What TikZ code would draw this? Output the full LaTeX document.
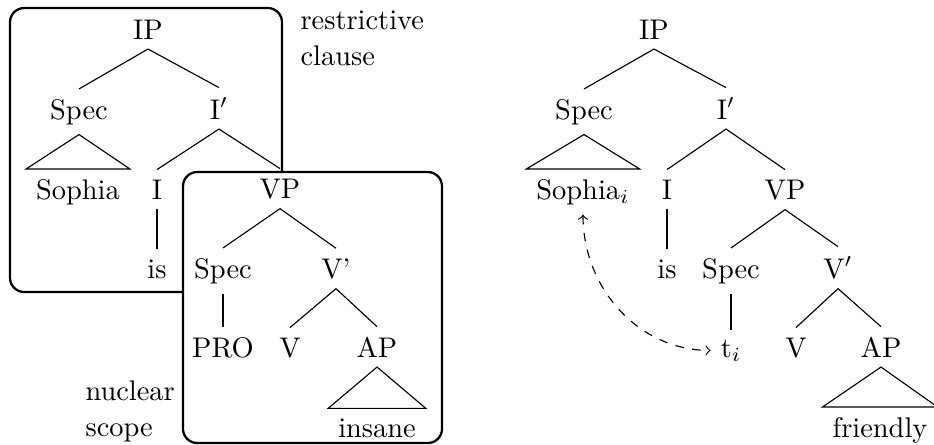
\documentclass[tikz,border=0pt]{standalone}
\begin{document}
\begin{tikzpicture}[x=0.352pt,y=-0.352pt,
  cat/.style={anchor=base,inner sep=3.33pt},
  branch/.style={line width=0.4pt},
  frame/.style={line width=0.8pt,rounded corners=5pt},
  lbl/.style={anchor=base west,inner sep=0pt},
  trace/.style={dashed,line width=0.4pt,<->,>=to}]
\useasboundingbox (0,0) rectangle (934,444);

% scope boxes
\draw[frame] (10,8) rectangle (282,292);
\draw[frame,fill=white] (183,172) rectangle (442,443);

\node[lbl] (rc1) at (300,29) {restrictive};
\node[lbl] (rc2) at (300,65) {clause};
\node[lbl] (ns1) at (85,400) {nuclear};
\node[lbl] (ns2) at (85,436) {scope};

% tree with PRO
\node[cat] (IPa)   at (148,39)  {IP};
\node[cat] (SpecA) at (79,119)  {Spec};
\node[cat] (Ipa)   at (219,119) {I$'$};
\node[cat] (SophA) at (78,199)  {Sophia};
\node[cat] (IA)    at (157,199) {I};
\node[cat] (VPA)   at (280,198) {VP};
\node[cat] (isA)   at (157,278) {is};
\node[cat] (SpecB) at (223,278) {Spec};
\node[cat] (VbarA) at (336,278) {V'};
\node[cat] (PROA)  at (223,357) {PRO};
\node[cat] (VA)    at (290,357) {V};
\node[cat] (APA)   at (377,357) {AP};
\node[cat] (insA)  at (377,437) {insane};

\draw[branch] (SpecA.north) -- (IPa.south) -- (Ipa.north);
\draw[branch] (SophA.north west) -- (SpecA.south) -- (SophA.north east) -- cycle;
\draw[branch] (IA.north) -- (Ipa.south) -- (VPA.north);
\draw[branch] (IA.south) -- (isA.north);
\draw[branch] (SpecB.north) -- (VPA.south) -- (VbarA.north);
\draw[branch] (SpecB.south) -- (PROA.north);
\draw[branch] (VA.north) -- (VbarA.south) -- (APA.north);
\draw[branch] (insA.north west) -- (APA.south) -- (insA.north east) -- cycle;

% tree with trace
\node[cat] (IPb)   at (654,39)  {IP};
\node[cat] (SpecC) at (584,119) {Spec};
\node[cat] (Ipb)   at (726,119) {I$'$};
\node[cat] (SophB) at (583,199) {Sophia$_i$};
\node[cat] (IB)    at (667,199) {I};
\node[cat] (VPB)   at (785,199) {VP};
\node[cat] (isB)   at (667,278) {is};
\node[cat] (SpecD) at (731,278) {Spec};
\node[cat] (VbarB) at (838,278) {V$'$};
\node[cat] (tB)    at (731,357) {t$_i$};
\node[cat] (VB)    at (796,357) {V};
\node[cat] (APB)   at (881,357) {AP};
\node[cat] (friB)  at (880,437) {friendly};

\draw[branch] (SpecC.north) -- (IPb.south) -- (Ipb.north);
\draw[branch] (SophB.north west) -- (SpecC.south) -- (SophB.north east) -- cycle;
\draw[branch] (IB.north) -- (Ipb.south) -- (VPB.north);
\draw[branch] (IB.south) -- (isB.north);
\draw[branch] (SpecD.north) -- (VPB.south) -- (VbarB.north);
\draw[branch] (SpecD.south) -- (SpecD.south |- tB.north);
\draw[branch] (VB.north) -- (VbarB.south) -- (APB.north);
\draw[branch] (friB.north west) -- (APB.south) -- (friB.north east) -- cycle;

\draw[trace] (SophB.south) to[out=-90,in=180] (tB.west);
\end{tikzpicture}
\end{document}
